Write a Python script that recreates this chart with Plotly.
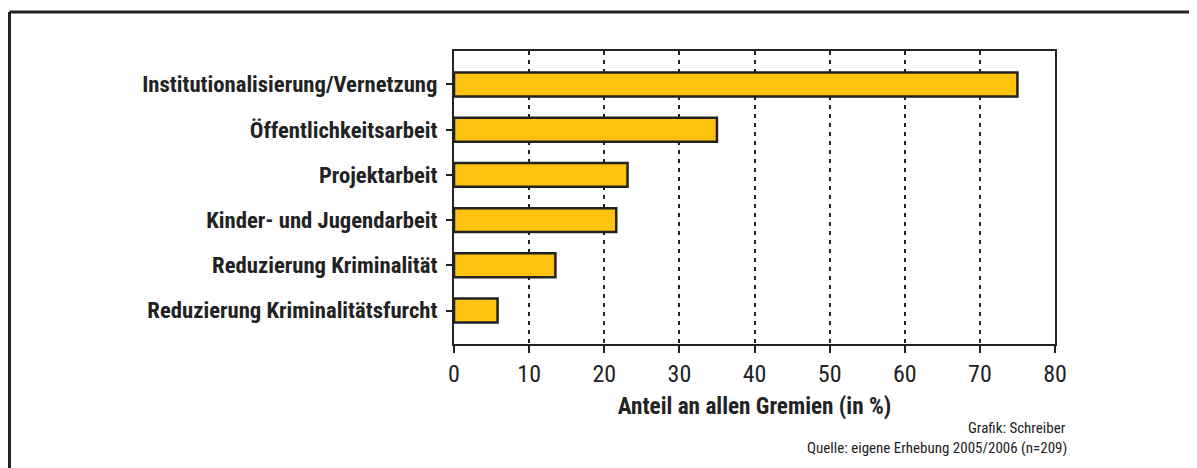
import plotly.graph_objects as go

categories = [
    "Institutionalisierung/Vernetzung",
    "Öffentlichkeitsarbeit",
    "Projektarbeit",
    "Kinder- und Jugendarbeit",
    "Reduzierung Kriminalität",
    "Reduzierung Kriminalitätsfurcht",
]
values = [75.0, 35.0, 23.1, 21.6, 13.5, 5.8]
x_ticks = [0, 10, 20, 30, 40, 50, 60, 70, 80]
x_title = "Anteil an allen Gremien (in %)"
credit = "Grafik: Schreiber"
source = "Quelle: eigene Erhebung 2005/2006 (n=209)"

NARROW = "Roboto Condensed, Liberation Sans, sans-serif"
INK = "#222222"

fig = go.Figure()
fig.add_trace(go.Bar(
    y=categories,
    x=values,
    orientation="h",
    width=0.53,
    marker=dict(color="#FFC20E", line=dict(color=INK, width=2.5)),
    hoverinfo="x+y",
))

# page body has an 8px margin: work in screen pixels and shift
OFF = 8
W, H = 1197 - OFF, 468 - OFF
PL, PR, PT, PB = 454 - OFF, 1055 - OFF, 51 - OFF, 344 - OFF
L, R, T, B = PL, W - PR, PT, H - PB
pw, ph = PR - PL, PB - PT

def px_x(sx):
    return (sx - OFF - PL) / pw

def px_y(sy):
    return (PB - (sy - OFF)) / ph

fig.update_layout(
    width=W, height=H,
    margin=dict(l=L, r=R, t=T, b=B, pad=0),
    paper_bgcolor="white",
    plot_bgcolor="white",
    showlegend=False,
    font=dict(family=NARROW, color=INK),
    xaxis=dict(
        range=[0, 80],
        tickvals=x_ticks,
        ticktext=[str(v) for v in x_ticks],
        tickfont=dict(family=NARROW, size=24, color=INK),
        ticks="outside", ticklen=7, tickwidth=2, tickcolor=INK,
        showline=True, linecolor=INK, linewidth=2, mirror=True,
        showgrid=True, gridcolor=INK, gridwidth=1.5, griddash="4px,5px",
        zeroline=False,
        title=dict(text=x_title, font=dict(family=NARROW, size=23.2, color=INK, weight="bold"), standoff=11),
    ),
    yaxis=dict(
        type="category",
        range=[5.74, -0.74],
        tickfont=dict(family=NARROW, size=22.7, color=INK, weight="bold"),
        ticks="outside", ticklen=6, tickwidth=1.5, tickcolor=INK,
        showline=True, linecolor=INK, linewidth=2, mirror=True,
        showgrid=False, zeroline=False,
        ticklabelstandoff=4,
    ),
    shapes=[
        dict(type="line", xref="paper", yref="paper",
             x0=px_x(9.5), x1=px_x(1210), y0=px_y(12), y1=px_y(12),
             line=dict(color=INK, width=3)),
        dict(type="line", xref="paper", yref="paper",
             x0=px_x(9.5), x1=px_x(9.5), y0=px_y(12), y1=px_y(480),
             line=dict(color=INK, width=3)),
        dict(type="line", xref="paper", yref="paper",
             x0=0, x1=0, y0=0, y1=px_y(351),
             line=dict(color=INK, width=2)),
        dict(type="line", xref="paper", yref="paper",
             x0=1, x1=1, y0=0, y1=px_y(351),
             line=dict(color=INK, width=2)),
    ],
    annotations=[
        dict(text=credit, xref="paper", yref="paper", x=px_x(1068), y=px_y(428),
             xanchor="right", yanchor="middle", showarrow=False,
             font=dict(family=NARROW, size=15, color=INK)),
        dict(text=source, xref="paper", yref="paper", x=px_x(1068.5), y=px_y(448),
             xanchor="right", yanchor="middle", showarrow=False,
             font=dict(family=NARROW, size=15, color=INK)),
    ],
)

fig.write_html("out.html")
